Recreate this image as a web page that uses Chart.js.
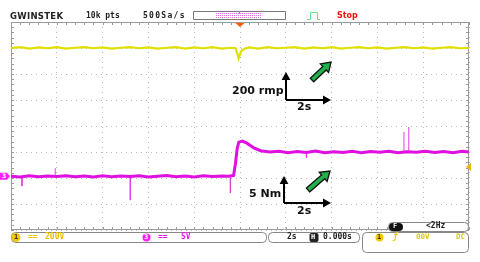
<!DOCTYPE html>
<html>
<head>
<meta charset="utf-8">
<script src="https://cdn.jsdelivr.net/npm/chart.js@4/dist/chart.umd.min.js"></script>
<style>
  html, body { margin: 0; padding: 0; background: #fff; }
  #wrap { position: relative; width: 480px; height: 262px; overflow: hidden; }
  #scope { position: absolute; left: 0; top: 0; }
  .t { position: absolute; white-space: nowrap; font-family: "DejaVu Sans Mono", monospace; font-weight: bold; font-size: 8px; line-height: 10px; }
  .a { position: absolute; white-space: nowrap; font-family: "DejaVu Sans", sans-serif; font-weight: bold; font-size: 11px; line-height: 12px; color: #111; }
</style>
</head>
<body>
<div id="wrap">
  <canvas id="scope" width="480" height="262"></canvas>

  <!-- bandeau du haut -->
  <div class="t" style="left:10px;top:11px;font-family:'DejaVu Sans',sans-serif;font-size:8.5px;letter-spacing:0.3px;color:#222">GWINSTEK</div>
  <div class="t" style="left:86px;top:11px;color:#222">10k pts</div>
  <div class="t" style="left:143px;top:11px;color:#222;letter-spacing:1.3px">500Sa/s</div>
  <div class="t" style="left:337px;top:11px;color:#f01010;font-family:'DejaVu Sans',sans-serif">Stop</div>

  <!-- annotations -->
  <div class="a" style="left:232px;top:85px">200 rmp</div>
  <div class="a" style="left:297px;top:101px">2s</div>
  <div class="a" style="left:249px;top:188px">5 Nm</div>
  <div class="a" style="left:297px;top:205px">2s</div>

  <!-- bandeau du bas -->
  <div class="t" style="left:14px;top:232px;color:#333;font-size:7px">1</div>
  <div class="t" style="left:28px;top:232px;color:#e8c400">==</div>
  <div class="t" style="left:45px;top:232px;color:#e8c400">200V</div>
  <div class="t" style="left:144px;top:232px;color:#fff;font-size:7px">3</div>
  <div class="t" style="left:158px;top:232px;color:#e020e0">==</div>
  <div class="t" style="left:181px;top:232px;color:#e020e0">5V</div>
  <div class="t" style="left:287px;top:232px;color:#222">2s</div>
  <div class="t" style="left:311px;top:232px;color:#fff;font-size:7px">H</div>
  <div class="t" style="left:323px;top:232px;color:#222">0.000s</div>
  <div class="t" style="left:377px;top:232px;color:#333;font-size:7px">1</div>
  <div class="t" style="left:393px;top:232px;color:#e8c400;font-style:italic">ƒ</div>
  <div class="t" style="left:416px;top:232px;color:#e8c400;font-size:7.5px">00V</div>
  <div class="t" style="left:456px;top:232px;color:#e8c400;font-size:7.5px">DC</div>
  <div class="t" style="left:393px;top:221px;color:#fff;font-size:7px">F</div>
  <div class="t" style="left:426px;top:221px;color:#222">&lt;2Hz</div>
</div>

<script>
const speedTime = [-10, -9.6, -9.2, -8.8, -8.4, -8.0, -7.6, -7.2, -6.8, -6.4, -6.0, -5.6, -5.2, -4.8, -4.4, -4.0, -3.6, -3.2, -2.8, -2.4, -2.0, -1.6, -1.2, -0.8, -0.4, -0.2, -0.12, -0.06, 0.05, 0.2, 0.4, 0.8, 1.2, 1.6, 2.0, 2.4, 2.8, 3.2, 3.6, 4.0, 4.4, 4.8, 5.2, 5.6, 6.0, 6.4, 6.8, 7.2, 7.6, 8.0, 8.4, 8.8, 9.2, 9.6, 10];
const speedDiv = [3.0, 3.03, 2.98, 3.02, 2.99, 3.03, 2.98, 3.01, 3.03, 2.99, 3.02, 2.98, 3.01, 3.03, 2.99, 3.02, 2.98, 3.01, 3.03, 2.98, 3.02, 2.99, 3.03, 2.98, 3.01, 3.0, 2.8, 2.6, 2.88, 2.97, 3.02, 2.98, 3.03, 2.99, 3.01, 3.03, 2.98, 3.02, 2.99, 3.03, 2.98, 3.01, 3.03, 2.99, 3.02, 2.98, 3.01, 3.03, 2.99, 3.02, 2.98, 3.01, 3.03, 2.99, 3.0];

const torqueTime = [-10, -9.6, -9.2, -8.8, -8.4, -8.0, -7.6, -7.2, -6.8, -6.4, -6.0, -5.6, -5.2, -4.8, -4.4, -4.0, -3.6, -3.2, -2.8, -2.4, -2.0, -1.6, -1.2, -0.8, -0.5, -0.28, -0.2, -0.12, -0.05, 0.1, 0.3, 0.6, 0.9, 1.3, 1.7, 2.1, 2.5, 2.9, 3.3, 3.7, 4.1, 4.5, 4.9, 5.3, 5.7, 6.1, 6.5, 6.9, 7.3, 7.7, 8.1, 8.5, 8.9, 9.3, 9.7, 10];
const torqueDiv = [-1.93, -1.96, -1.91, -1.95, -1.92, -1.94, -1.91, -1.95, -1.92, -1.96, -1.91, -1.95, -1.92, -1.94, -1.91, -1.96, -1.93, -1.90, -1.95, -1.92, -1.96, -1.91, -1.94, -1.92, -1.93, -1.90, -1.45, -0.85, -0.62, -0.58, -0.66, -0.84, -0.95, -1.0, -0.97, -1.03, -0.98, -1.02, -0.96, -1.03, -0.99, -1.02, -0.97, -1.03, -0.98, -1.01, -0.97, -1.03, -0.99, -1.01, -0.97, -1.02, -0.98, -1.03, -0.97, -1.0];

// pointes isolées du couple : instant, niveau de base, sommet
const spikeTime = [-9.52, -8.07, -4.79, -0.42, 2.9, 7.16, 7.37];
const spikeBase = [-1.93, -1.93, -1.93, -1.93, -1.0, -1.0, -1.0];
const spikeTip = [-2.31, -1.62, -2.85, -2.58, -1.22, -0.23, -0.04];

const timeTicks = [-10, -8, -6, -4, -2, 0, 2, 4, 6, 8, 10];
const divTicks = [-4, -3, -2, -1, 0, 1, 2, 3, 4];

const spikeData = [];
spikeTime.forEach((t, i) => {
    spikeData.push({ x: t, y: spikeBase[i] }, { x: t, y: spikeTip[i] }, { x: t + 0.01, y: null });
});

function arrowHead(ctx, x, y, dx, dy, size) {
    const len = Math.hypot(dx, dy);
    const ux = dx / len, uy = dy / len;
    ctx.beginPath();
    ctx.moveTo(x, y);
    ctx.lineTo(x - ux * size - uy * size * 0.55, y - uy * size + ux * size * 0.55);
    ctx.lineTo(x - ux * size + uy * size * 0.55, y - uy * size - ux * size * 0.55);
    ctx.closePath();
    ctx.fill();
}

function axisArrows(ctx, x0, y0, top, right) {
    ctx.strokeStyle = '#000';
    ctx.fillStyle = '#000';
    ctx.lineWidth = 2;
    ctx.beginPath();
    ctx.moveTo(x0, y0);
    ctx.lineTo(x0, top + 6);
    ctx.moveTo(x0, y0);
    ctx.lineTo(right - 6, y0);
    ctx.stroke();
    arrowHead(ctx, x0, top, 0, -1, 8);
    arrowHead(ctx, right, y0, 1, 0, 8);
}

function greenArrow(ctx, x0, y0, x1, y1) {
    const dx = x1 - x0, dy = y1 - y0;
    const len = Math.hypot(dx, dy);
    const ux = dx / len, uy = dy / len;
    const nx = -uy, ny = ux;
    const hw = 2.5, hh = 6, hl = 9;
    const bx = x1 - ux * hl, by = y1 - uy * hl;
    ctx.beginPath();
    ctx.moveTo(x0 + nx * hw, y0 + ny * hw);
    ctx.lineTo(bx + nx * hw, by + ny * hw);
    ctx.lineTo(bx + nx * hh, by + ny * hh);
    ctx.lineTo(x1, y1);
    ctx.lineTo(bx - nx * hh, by - ny * hh);
    ctx.lineTo(bx - nx * hw, by - ny * hw);
    ctx.lineTo(x0 - nx * hw, y0 - ny * hw);
    ctx.closePath();
    ctx.fillStyle = '#22b04a';
    ctx.fill();
    ctx.strokeStyle = '#111';
    ctx.lineWidth = 1.3;
    ctx.stroke();
}

function roundBox(ctx, x, y, w, h, r, stroke, fill) {
    ctx.beginPath();
    ctx.roundRect(x, y, w, h, r);
    if (fill) { ctx.fillStyle = fill; ctx.fill(); }
    if (stroke) { ctx.strokeStyle = stroke; ctx.lineWidth = 1; ctx.stroke(); }
}

const scopeDecor = {
    id: 'scopeDecor',
    beforeDatasetsDraw(chart) {
        const ctx = chart.ctx;
        const a = chart.chartArea;
        const xs = chart.scales.x, ys = chart.scales.y;
        ctx.save();
        // cadre + petites graduations
        ctx.strokeStyle = '#9a9a9a';
        ctx.lineWidth = 1;
        ctx.strokeRect(a.left + 0.5, a.top + 0.5, a.width - 1, a.height - 1);
        ctx.beginPath();
        for (let t = -10; t <= 10.001; t += 0.4) {
            const px = Math.round(xs.getPixelForValue(t)) + 0.5;
            ctx.moveTo(px, a.top); ctx.lineTo(px, a.top + 3);
            ctx.moveTo(px, a.bottom); ctx.lineTo(px, a.bottom - 3);
        }
        for (let d = -4; d <= 4.001; d += 0.2) {
            const py = Math.round(ys.getPixelForValue(d)) + 0.5;
            ctx.moveTo(a.left, py); ctx.lineTo(a.left + 3, py);
            ctx.moveTo(a.right, py); ctx.lineTo(a.right - 3, py);
        }
        ctx.stroke();
        ctx.restore();
    },
    afterDraw(chart) {
        const ctx = chart.ctx;
        const a = chart.chartArea;
        ctx.save();
        // repère de déclenchement
        const tx = chart.scales.x.getPixelForValue(0);
        ctx.fillStyle = '#ff5a00';
        ctx.beginPath();
        ctx.moveTo(tx - 4.5, a.top + 1); ctx.lineTo(tx + 4.5, a.top + 1); ctx.lineTo(tx, a.top + 5);
        ctx.closePath(); ctx.fill();
        // niveau de déclenchement à droite
        ctx.fillStyle = '#f0b400';
        ctx.beginPath();
        ctx.moveTo(a.right - 3, 167); ctx.lineTo(a.right + 2, 163); ctx.lineTo(a.right + 2, 171);
        ctx.closePath(); ctx.fill();
        // marqueur voie 3
        const y3 = chart.scales.y.getPixelForValue(-1.93);
        ctx.fillStyle = '#ff20ff';
        ctx.beginPath();
        ctx.moveTo(0, y3 - 3.5); ctx.lineTo(7, y3 - 3.5); ctx.lineTo(10, y3); ctx.lineTo(7, y3 + 3.5); ctx.lineTo(0, y3 + 3.5);
        ctx.closePath(); ctx.fill();
        ctx.fillStyle = '#fff';
        ctx.font = 'bold 6px "DejaVu Sans"';
        ctx.fillText('3', 2, y3 + 2);

        // barre mémoire + icône
        roundBox(ctx, 193.5, 11.5, 92, 8, 0, '#777', '#fff');
        ctx.strokeStyle = '#e070e0';
        ctx.setLineDash([1, 1]);
        ctx.beginPath();
        for (let yy = 13.5; yy <= 17.5; yy += 2) { ctx.moveTo(216, yy); ctx.lineTo(261, yy); }
        ctx.stroke();
        ctx.setLineDash([]);
        ctx.strokeStyle = '#00c8d0';
        ctx.beginPath(); ctx.moveTo(239.5, 11); ctx.lineTo(239.5, 14); ctx.stroke();
        ctx.strokeStyle = '#6de08a';
        ctx.lineWidth = 1;
        ctx.beginPath();
        ctx.moveTo(307, 19.5); ctx.lineTo(310.5, 19.5); ctx.lineTo(310.5, 12.5); ctx.lineTo(317.5, 12.5); ctx.lineTo(317.5, 19.5); ctx.lineTo(320, 19.5);
        ctx.stroke();

        // boîtes du bas
        roundBox(ctx, 11.5, 232.5, 255, 10, 4, '#888', null);
        roundBox(ctx, 268.5, 232.5, 91, 10, 4, '#888', null);
        roundBox(ctx, 362.5, 232.5, 106, 20, 4, '#888', null);
        roundBox(ctx, 388.5, 222.5, 80, 9, 4, '#888', '#fff');
        roundBox(ctx, 389, 223, 14, 8, 4, null, '#111');
        roundBox(ctx, 309.5, 233, 9, 9, 2, null, '#222');
        ctx.fillStyle = '#f2c800';
        ctx.beginPath(); ctx.arc(16, 237.5, 4.5, 0, Math.PI * 2); ctx.fill();
        ctx.beginPath(); ctx.arc(379.5, 237.5, 4, 0, Math.PI * 2); ctx.fill();
        ctx.fillStyle = '#ff20ff';
        ctx.beginPath(); ctx.arc(146.5, 237.5, 4, 0, Math.PI * 2); ctx.fill();

        // flèches d'échelle
        axisArrows(ctx, 286, 100, 72, 331);
        greenArrow(ctx, 312, 80, 331, 62);
        axisArrows(ctx, 284, 203, 176, 331);
        greenArrow(ctx, 308, 190, 330, 171);
        ctx.restore();
    }
};

new Chart(document.getElementById('scope'), {
    type: 'line',
    data: {
        datasets: [{
            label: 'Vitesse',
            data: speedTime.map((t, i) => ({ x: t, y: speedDiv[i] })),
            borderColor: '#e0e000',
            borderWidth: 2.2,
            pointRadius: 0,
            tension: 0
        }, {
            label: 'Couple',
            data: torqueTime.map((t, i) => ({ x: t, y: torqueDiv[i] })),
            borderColor: '#e010e0',
            borderWidth: 3,
            pointRadius: 0,
            tension: 0
        }, {
            label: 'Pointes',
            data: spikeData,
            borderColor: '#e040e0',
            borderWidth: 1,
            pointRadius: 0,
            spanGaps: false
        }]
    },
    options: {
        responsive: false,
        animation: false,
        layout: { padding: { left: 11, right: 11, top: 22, bottom: 32 } },
        plugins: { legend: { display: false }, tooltip: { enabled: false } },
        scales: {
            x: {
                type: 'linear', min: -10, max: 10,
                afterBuildTicks: s => { s.ticks = timeTicks.map(v => ({ value: v })); },
                ticks: { display: false },
                grid: { color: '#b8b8b8', drawTicks: false, lineWidth: 1 },
                border: { display: false, dash: [1, 4] }
            },
            y: {
                min: -4, max: 4,
                afterBuildTicks: s => { s.ticks = divTicks.map(v => ({ value: v })); },
                ticks: { display: false },
                grid: { color: '#b8b8b8', drawTicks: false, lineWidth: 1 },
                border: { display: false, dash: [1, 4] }
            }
        }
    },
    plugins: [scopeDecor]
});
</script>
</body>
</html>
